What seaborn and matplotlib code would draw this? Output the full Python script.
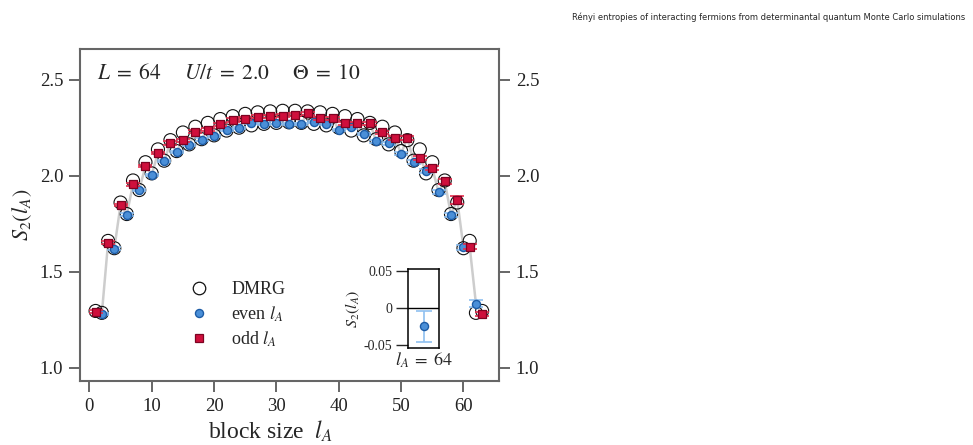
import numpy as np
import pandas as pd
import matplotlib
matplotlib.use("Agg")
import matplotlib.pyplot as plt
import seaborn as sns
from matplotlib.lines import Line2D
from matplotlib import font_manager
from matplotlib.font_manager import FontProperties

# ---------------- data ----------------
title_text = "Rényi entropies of interacting fermions from determinantal quantum Monte Carlo simulations"
params_text = r"$L\;=\;64 \quad\;\; U/t\;=\;2.0 \quad\;\; \Theta\;=\;10$"

l_dmrg = list(range(1, 64))
s_dmrg = [1.295, 1.285, 1.660, 1.622, 1.860, 1.800, 1.975, 1.925, 2.070, 2.012,
          2.137, 2.078, 2.185, 2.128, 2.225, 2.163, 2.255, 2.190, 2.275, 2.210,
          2.295, 2.235, 2.310, 2.250, 2.322, 2.262, 2.330, 2.270, 2.335, 2.275,
          2.338, 2.278, 2.338, 2.275, 2.335, 2.270, 2.330, 2.262, 2.322, 2.250,
          2.310, 2.235, 2.295, 2.210, 2.275, 2.190, 2.255, 2.163, 2.225, 2.128,
          2.185, 2.078, 2.137, 2.012, 2.070, 1.925, 1.975, 1.800, 1.860, 1.622,
          1.660, 1.285, 1.295]

l_odd = [1, 3, 5, 7, 9, 11, 13, 15, 17, 19, 21, 23, 25, 27, 29, 31,
         33, 35, 37, 39, 41, 43, 45, 47, 49, 51, 53, 55, 57, 59, 61, 63]
s_odd = [1.292, 1.650, 1.847, 1.955, 2.050, 2.118, 2.170, 2.185, 2.230, 2.240,
         2.267, 2.290, 2.297, 2.307, 2.310, 2.313, 2.318, 2.326, 2.300, 2.300,
         2.274, 2.274, 2.274, 2.225, 2.197, 2.197, 2.090, 2.040, 1.970, 1.873,
         1.630, 1.279]
err_odd = [0.006, 0.007, 0.007, 0.007, 0.007, 0.007, 0.008, 0.008, 0.008, 0.008,
           0.008, 0.008, 0.008, 0.008, 0.008, 0.008, 0.008, 0.008, 0.008, 0.008,
           0.008, 0.008, 0.008, 0.009, 0.009, 0.010, 0.010, 0.011, 0.014, 0.020,
           0.012, 0.008]

l_even = [2, 4, 6, 8, 10, 12, 14, 16, 18, 20, 22, 24, 26, 28, 30, 32,
          34, 36, 38, 40, 42, 44, 46, 48, 50, 52, 54, 56, 58, 60, 62]
s_even = [1.280, 1.620, 1.797, 1.927, 2.005, 2.078, 2.125, 2.160, 2.188, 2.205,
          2.238, 2.247, 2.274, 2.270, 2.277, 2.270, 2.270, 2.281, 2.270, 2.238,
          2.252, 2.217, 2.180, 2.168, 2.115, 2.073, 2.026, 1.915, 1.795, 1.627,
          1.333]
err_even = [0.005, 0.006, 0.006, 0.006, 0.006, 0.006, 0.006, 0.006, 0.006, 0.006,
            0.006, 0.006, 0.006, 0.006, 0.006, 0.006, 0.006, 0.006, 0.006, 0.007,
            0.007, 0.007, 0.008, 0.008, 0.009, 0.010, 0.010, 0.012, 0.012, 0.012,
            0.020]

inset_l = [64]
inset_s = [-0.025]
inset_err = [0.021]

x_ticks = [0, 10, 20, 30, 40, 50, 60]
y_ticks = [1.0, 1.5, 2.0, 2.5]
y_ticklabels = ["1.0", "1.5", "2.0", "2.5"]
inset_yticks = [-0.05, 0.0, 0.05]
inset_yticklabels = ["-0.05", "0", "0.05"]

# ---------------- style ----------------
sns.set_style("ticks")
plt.rcParams["font.family"] = ["Liberation Serif", "DejaVu Serif"]
plt.rcParams["mathtext.fontset"] = "stix"

RED = "#cf0f3c"
RED_EDGE = "#7d0322"
RED_ERR = "#e5304f"
BLUE = "#4a8fd8"
BLUE_EDGE = "#1d5ca6"
BLUE_ERR = "#8fc0f0"
GRAY_LINE = "#cdcdcd"
AX_GRAY = "#666666"

fig = plt.figure(figsize=(9.73, 4.45), dpi=100)
ax = fig.add_axes([80 / 973, 1 - 381 / 445, 419 / 973, 332 / 445])

df_odd = pd.DataFrame({"l": l_odd, "S": s_odd, "err": err_odd})
df_even = pd.DataFrame({"l": l_even, "S": s_even, "err": err_even})
df_all = pd.concat([df_odd, df_even]).sort_values("l")
df_dmrg = pd.DataFrame({"l": l_dmrg, "S": s_dmrg})

sns.lineplot(data=df_all, x="l", y="S", ax=ax, color=GRAY_LINE, lw=1.8,
             estimator=None, sort=True, zorder=1)
sns.scatterplot(data=df_dmrg, x="l", y="S", ax=ax, marker="o", s=88,
                facecolor="none", edgecolor="#111111", linewidth=0.8, zorder=2)
ax.errorbar(df_even["l"], df_even["S"], yerr=df_even["err"], fmt="none",
            ecolor=BLUE_ERR, elinewidth=1.2, capsize=5, capthick=1.2, zorder=3)
sns.scatterplot(data=df_even, x="l", y="S", ax=ax, marker="o", s=34,
                color=BLUE, edgecolor=BLUE_EDGE, linewidth=1.0, zorder=4)
ax.errorbar(df_odd["l"], df_odd["S"], yerr=df_odd["err"], fmt="none",
            ecolor=RED_ERR, elinewidth=1.2, capsize=5, capthick=1.2, zorder=5)
sns.scatterplot(data=df_odd, x="l", y="S", ax=ax, marker="s", s=38,
                color=RED, edgecolor=RED_EDGE, linewidth=0.9, zorder=6)

ax.set_xlim(-1.5, 65.7)
ax.set_ylim(0.93, 2.66)
ax.set_xticks(x_ticks)
ax.set_xticklabels([str(t) for t in x_ticks])
ax.set_yticks(y_ticks)
ax.set_yticklabels(y_ticklabels)
ax.tick_params(axis="both", direction="out", length=8, width=1.4,
               color=AX_GRAY, labelsize=13.5, labelcolor="#222222", pad=4)
ax.tick_params(axis="y", left=True, right=True, labelleft=True, labelright=True)
ax.tick_params(axis="x", top=False, bottom=True)
for sp in ax.spines.values():
    sp.set_visible(True)
    sp.set_color(AX_GRAY)
    sp.set_linewidth(1.5)

ax.set_xlabel(r"block size  $l_A$", fontsize=17, labelpad=3)
ax.xaxis.set_label_coords(0.455, -0.115)
ax.set_ylabel(r"$S_2(l_A)$", fontsize=16, labelpad=4)

ax.text(0.04, 0.955, params_text, transform=ax.transAxes, fontsize=15.5,
        ha="left", va="top")

handles = [
    Line2D([], [], marker="o", ls="none", mfc="none", mec="#111111", ms=9, mew=0.9),
    Line2D([], [], marker="o", ls="none", mfc=BLUE, mec=BLUE_EDGE, ms=5.8, mew=1.0),
    Line2D([], [], marker="s", ls="none", mfc=RED, mec=RED_EDGE, ms=6, mew=0.9),
]
labels = ["DMRG", r"even $l_A$", r"odd $l_A$"]
ax.legend(handles, labels, loc="upper left", bbox_to_anchor=(0.262, 0.30),
          frameon=False, fontsize=13, handlelength=1.0, handletextpad=1.3,
          labelspacing=0.32, borderpad=0, borderaxespad=0)

# ---------------- inset ----------------
axi = fig.add_axes([407.7 / 973, 1 - 348.3 / 445, 31.6 / 973, 79.3 / 445])
df_in = pd.DataFrame({"l": inset_l, "S": inset_s, "err": inset_err})
axi.axhline(0, color="black", lw=1.0, zorder=1)
axi.errorbar(df_in["l"], df_in["S"], yerr=df_in["err"], fmt="none",
             ecolor=BLUE_ERR, elinewidth=1.2, capsize=6, capthick=1.2, zorder=2)
sns.scatterplot(data=df_in, x="l", y="S", ax=axi, marker="o", s=34,
                color=BLUE, edgecolor=BLUE_EDGE, linewidth=1.0, zorder=3)
axi.set_xlim(63, 65)
axi.set_ylim(-0.0545, 0.0525)
axi.set_xticks([])
axi.set_yticks(inset_yticks)
axi.set_yticklabels(inset_yticklabels)
axi.tick_params(axis="y", direction="out", length=9, width=1.0, labelsize=10, pad=2)
for sp in axi.spines.values():
    sp.set_visible(True)
    sp.set_color("black")
    sp.set_linewidth(1.1)
axi.set_xlabel(r"$l_A\;=\;64$", fontsize=13, labelpad=2)
axi.set_ylabel(r"$S_2(l_A)$", fontsize=11.5, labelpad=1)

# title: prefer a condensed sans if one is installed, sized to the reference width
cond = None
for f in font_manager.fontManager.ttflist:
    fn = f.fname.lower()
    if ("condensed" in fn or "narrow" in fn) and "sans" in fn and "bold" not in fn \
            and "oblique" not in fn and "italic" not in fn and "mono" not in fn:
        cond = f.fname
        break
if cond is not None:
    tprop = FontProperties(fname=cond, size=10)
else:
    tprop = FontProperties(family="Roboto", size=10)
title = fig.text(0.992, 0.962, title_text, ha="right", va="center",
                 fontproperties=tprop)
renderer = fig.canvas.get_renderer()
w = title.get_window_extent(renderer).width
title.set_fontsize(10 * 388.0 / w)

fig.savefig("out.png", dpi=100)
